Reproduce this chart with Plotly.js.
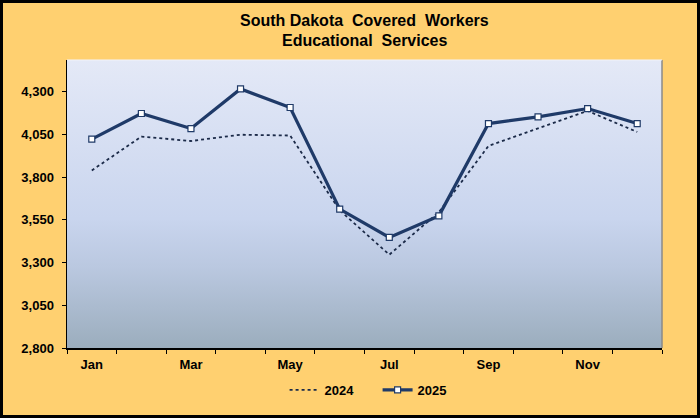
<!DOCTYPE html>
<html>
<head>
<meta charset="utf-8">
<script src="https://cdn.plot.ly/plotly-3.0.1.min.js"></script>
<style>
html,body{margin:0;padding:0;background:#FFD070;}
#chart{width:700px;height:418px;}
</style>
</head>
<body>
<div id="chart"></div>
<script>
const months = ["Jan","Feb","Mar","Apr","May","Jun","Jul","Aug","Sep","Oct","Nov","Dec"];
const tickLabels = ["Jan","","Mar","","May","","Jul","","Sep","","Nov",""];
const values2024 = [3839, 4037, 4011, 4048, 4043, 3605, 3346, 3595, 3982, 4085, 4187, 4064];
const values2025 = [4022, 4172, 4084, 4316, 4207, 3612, 3447, 3573, 4113, 4152, 4201, 4113];
const yTicks = [2800, 3050, 3300, 3550, 3800, 4050, 4300];
const titleLines = ["South Dakota\u00a0 Covered\u00a0 Workers", "Educational\u00a0 Services"];

const xIdx = months.map((m, i) => i);
const FONT = "Arial, 'Liberation Sans', sans-serif";

const gradSvg =
  "<svg xmlns='http://www.w3.org/2000/svg' width='100' height='100' preserveAspectRatio='none'>" +
  "<defs><linearGradient id='g' x1='0' y1='0' x2='0' y2='1'>" +
  "<stop offset='0' stop-color='#E4E9F7'/>" +
  "<stop offset='0.55' stop-color='#C9D5EE'/>" +
  "<stop offset='0.72' stop-color='#BAC8E0'/>" +
  "<stop offset='1' stop-color='#9BADBD'/>" +
  "</linearGradient></defs><rect width='100' height='100' fill='url(#g)'/></svg>";
const gradUrl = "data:image/svg+xml;base64," + btoa(gradSvg);

const W = 700, H = 418, ML = 67, MR = 38, MT = 60, MB = 70;
const PW = W - ML - MR, PH = H - MT - MB;
const py = (pix) => (MT + PH - pix) / PH;

const traces = [
  {
    x: xIdx, y: values2024, name: "2024", type: "scatter", mode: "lines",
    line: {color: "#1B2A48", width: 1.8, dash: "dot"},
    hoverinfo: "skip"
  },
  {
    x: xIdx, y: values2025, name: "2025", type: "scatter", mode: "lines+markers",
    line: {color: "#1F3A68", width: 3.2},
    marker: {symbol: "square", size: 6, color: "#FFFFFF", line: {color: "#1F3A68", width: 1.2}},
    hoverinfo: "skip"
  }
];

const layout = {
  width: W, height: H,
  paper_bgcolor: "#FFD070",
  plot_bgcolor: "rgba(0,0,0,0)",
  margin: {l: ML, r: MR, t: MT, b: MB, pad: 0, autoexpand: false},
  font: {family: FONT, size: 13, color: "#000000"},
  annotations: [
    {text: "<b>" + titleLines[0] + "</b>", xref: "paper", yref: "paper", x: 0.5, y: py(20),
     xanchor: "center", yanchor: "middle", showarrow: false,
     font: {family: FONT, size: 16, color: "#000000"}},
    {text: "<b>" + titleLines[1] + "</b>", xref: "paper", yref: "paper", x: 0.5, y: py(41),
     xanchor: "center", yanchor: "middle", showarrow: false,
     font: {family: FONT, size: 16, color: "#000000"}}
  ],
  xaxis: {
    range: [-0.5, 11.5],
    tickmode: "array",
    tickvals: xIdx,
    ticktext: tickLabels.map(t => t ? "<b>" + t + "</b>" : ""),
    ticks: "",
    ticklen: 0,
    showgrid: false, zeroline: false,
    showline: true, linecolor: "#000000", linewidth: 1.5,
    tickfont: {family: FONT, size: 13, color: "#000000"},
    ticklabelstandoff: 4,
    minor: {tick0: -0.5, dtick: 1, ticks: "outside", ticklen: 4, tickcolor: "#000000", tickwidth: 1, showgrid: false},
    fixedrange: true
  },
  yaxis: {
    range: [2800, 4485],
    tickmode: "array",
    tickvals: yTicks,
    ticktext: yTicks.map(v => "<b>" + v.toLocaleString("en-US") + "</b>"),
    ticks: "outside", ticklen: 4, tickcolor: "#000000", tickwidth: 1,
    showgrid: false, zeroline: false,
    showline: true, linecolor: "#000000", linewidth: 1.5,
    tickfont: {family: FONT, size: 13, color: "#000000"},
    ticklabelstandoff: 5,
    fixedrange: true
  },
  showlegend: true,
  legend: {
    orientation: "h", x: 0.522, xanchor: "center", y: py(390), yanchor: "middle",
    yref: "paper",
    font: {family: FONT, size: 13, color: "#000000", weight: "bold"},
    bgcolor: "rgba(0,0,0,0)",
    entrywidth: 48, entrywidthmode: "pixels",
    tracegroupgap: 0
  },
  images: [{
    source: gradUrl, xref: "paper", yref: "paper",
    x: 0, y: 1, sizex: 1, sizey: 1, sizing: "stretch",
    xanchor: "left", yanchor: "top", layer: "below"
  }],
  shapes: [
    {type: "line", xref: "paper", yref: "paper", x0: 1, x1: 1, y0: 0, y1: 1,
     line: {color: "#8A8A8A", width: 1.5}},
    {type: "line", xref: "paper", yref: "paper", x0: 0, x1: 1, y0: 1, y1: 1,
     line: {color: "#F2F4FA", width: 1}},
    {type: "rect", xref: "paper", yref: "paper",
     x0: (-ML + 1.5) / PW, x1: (PW + MR - 1.5) / PW,
     y0: (-MB + 1.5) / PH, y1: (PH + MT - 1.5) / PH,
     line: {color: "#000000", width: 3}, fillcolor: "rgba(0,0,0,0)"}
  ]
};

Plotly.newPlot("chart", traces, layout, {displayModeBar: false, staticPlot: true});
</script>
</body>
</html>
